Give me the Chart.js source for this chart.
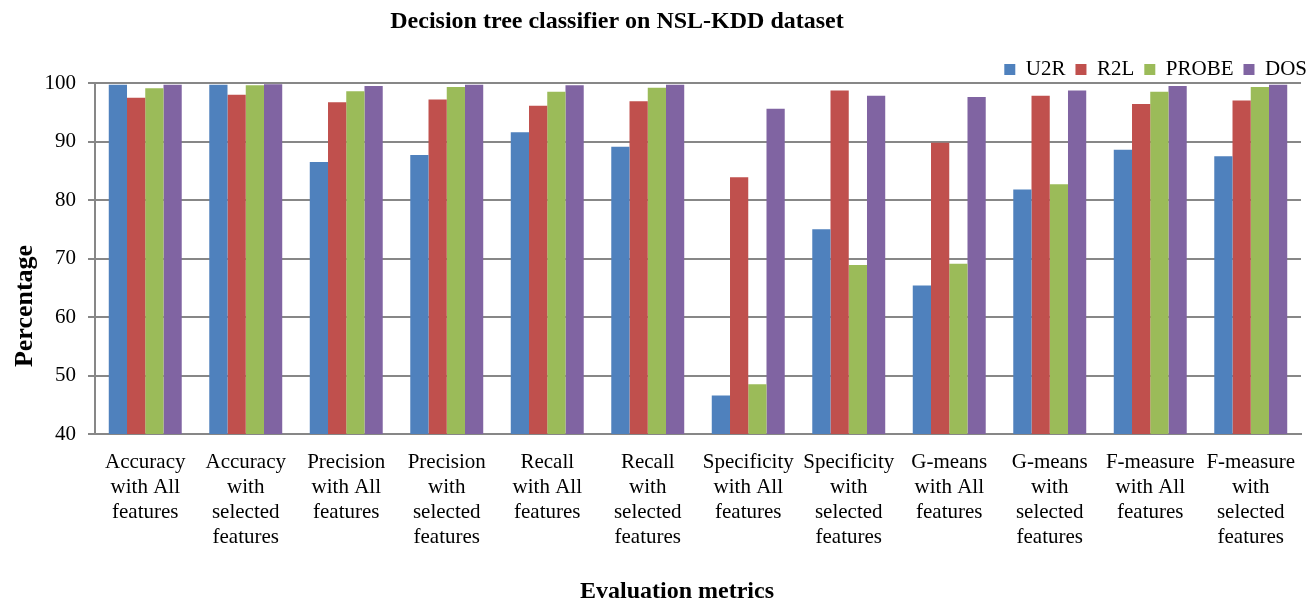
<!DOCTYPE html>
<html>
<head>
<meta charset="utf-8">
<script src="https://cdn.jsdelivr.net/npm/chart.js@4.4.0/dist/chart.umd.min.js"></script>
<style>
  html, body { margin: 0; padding: 0; background: #fff; }
  #wrap { width: 1309px; height: 603px; }
</style>
</head>
<body>
<div id="wrap"><canvas id="c" width="1309" height="603"></canvas></div>
<script>
// Evaluation metric categories (multi-line axis labels)
const categories = [
  ["Accuracy", "with All", "features"],
  ["Accuracy", "with", "selected", "features"],
  ["Precision", "with All", "features"],
  ["Precision", "with", "selected", "features"],
  ["Recall", "with All", "features"],
  ["Recall", "with", "selected", "features"],
  ["Specificity", "with All", "features"],
  ["Specificity", "with", "selected", "features"],
  ["G-means", "with All", "features"],
  ["G-means", "with", "selected", "features"],
  ["F-measure", "with All", "features"],
  ["F-measure", "with", "selected", "features"]
];

// Percentages per attack class
const u2r   = [99.7, 99.7, 86.5, 87.7, 91.6, 89.1, 46.6, 75.0, 65.4, 81.8, 88.6, 87.5];
const r2l   = [97.5, 98.0, 96.7, 97.2, 96.1, 96.9, 83.9, 98.7, 89.8, 97.8, 96.4, 97.0];
const probe = [99.1, 99.6, 98.6, 99.3, 98.5, 99.2, 48.5, 68.9, 69.1, 82.7, 98.5, 99.3];
const dos   = [99.7, 99.8, 99.5, 99.7, 99.6, 99.7, 95.6, 97.8, 97.6, 98.7, 99.5, 99.7];

const seriesNames = ["U2R", "R2L", "PROBE", "DOS"];
const yTicks = [40, 50, 60, 70, 80, 90, 100];

const chartTitle = "Decision tree classifier on NSL-KDD dataset";
const xTitle = "Evaluation metrics";
const yTitle = "Percentage";

const SERIF = "'Liberation Serif', 'Times New Roman', serif";
const GRID = "#878787";

// Draws the chart heading and both axis titles
const titlesPlugin = {
  id: "titles",
  afterDraw(chart) {
    const ctx = chart.ctx;
    ctx.save();
    ctx.fillStyle = "#000";
    ctx.textAlign = "center";
    ctx.textBaseline = "middle";
    ctx.font = "bold 24px " + SERIF;
    ctx.fillText(chartTitle, 617, 22);
    ctx.font = "bold 24px " + SERIF;
    ctx.fillText(xTitle, 677, 592);
    ctx.translate(25, 306);
    ctx.rotate(-Math.PI / 2);
    ctx.font = "bold 26px " + SERIF;
    ctx.fillText(yTitle, 0, 0);
    ctx.restore();
  }
};

// Nudges the legend block so it sits just above the plot's top-right corner
const legendNudge = {
  id: "legendNudge",
  afterLayout(chart) {
    const lg = chart.legend;
    if (!lg) return;
    lg.top += 7; lg.bottom += 7;
    lg.left += 16; lg.right += 16;
  }
};

const colors = ["#4F81BD", "#C0504D", "#9BBB59", "#8064A2"];
const values = [u2r, r2l, probe, dos];

new Chart(document.getElementById("c"), {
  type: "bar",
  data: {
    labels: categories,
    datasets: seriesNames.map((name, i) => ({
      label: name,
      data: values[i],
      backgroundColor: colors[i],
      borderWidth: 0,
      categoryPercentage: 0.726,
      barPercentage: 1.0
    }))
  },
  options: {
    responsive: false,
    animation: false,
    layout: { padding: { top: 42, right: 8, bottom: 0, left: 0 } },
    plugins: {
      title: { display: false },
      tooltip: { enabled: false },
      legend: {
        position: "top",
        align: "end",
        labels: {
          color: "#000",
          font: { family: SERIF, size: 21 },
          boxWidth: 11,
          boxHeight: 11,
          padding: 10
        }
      }
    },
    scales: {
      x: {
        grid: { display: false },
        border: { display: true, color: GRID, width: 2 },
        ticks: {
          color: "#000",
          font: { family: SERIF, size: 21, lineHeight: 1.19 },
          maxRotation: 0,
          minRotation: 0,
          autoSkip: false,
          padding: 8
        },
        afterFit(scale) { scale.height = 169; }
      },
      y: {
        min: 40,
        max: 100,
        afterBuildTicks(scale) { scale.ticks = yTicks.map(v => ({ value: v })); },
        grid: { color: GRID, lineWidth: 2, tickLength: 7, drawTicks: true },
        border: { display: true, color: GRID, width: 2 },
        ticks: {
          color: "#000",
          font: { family: SERIF, size: 21 },
          padding: 12
        },
        afterFit(scale) { scale.width = 95; }
      }
    }
  },
  plugins: [titlesPlugin, legendNudge]
});
</script>
</body>
</html>
